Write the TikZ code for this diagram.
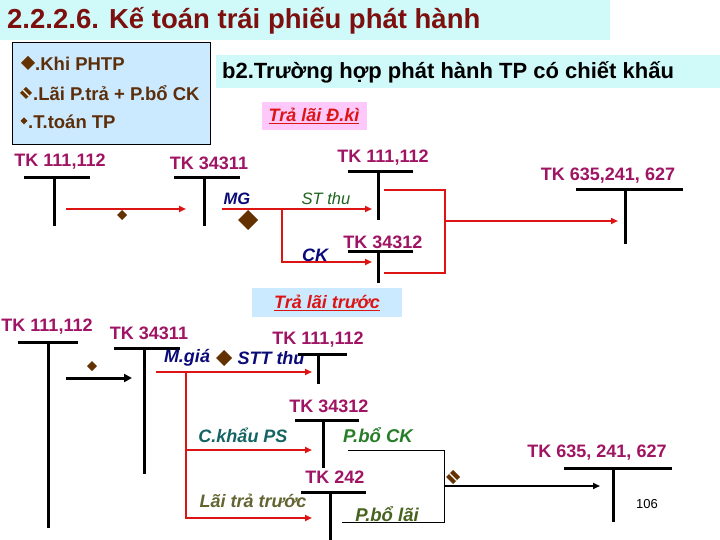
\documentclass[tikz,border=0pt]{standalone}
\usepackage{fontspec}
\setmainfont{Liberation Sans}
\usetikzlibrary{arrows.meta,shapes.geometric}
\definecolor{titlebg}{RGB}{208,250,250}
\definecolor{titlered}{RGB}{125,15,15}
\definecolor{legbg}{RGB}{204,234,255}
\definecolor{legtxt}{RGB}{92,46,10}
\definecolor{tkpur}{RGB}{160,20,100}
\definecolor{redl}{RGB}{220,20,20}
\definecolor{pinkbg}{RGB}{255,200,250}
\definecolor{dblue}{RGB}{10,10,120}
\definecolor{dgreen}{RGB}{30,100,30}
\definecolor{teal2}{RGB}{20,100,100}
\definecolor{lgreen}{RGB}{40,125,40}
\definecolor{olive2}{RGB}{100,100,50}
\definecolor{olgreen}{RGB}{70,100,30}
\definecolor{brownd}{RGB}{100,50,0}
\newcommand\dmd[3]{\fill[brownd] (#1,#2) ++(0,-#3) -- ++(#3,#3) -- ++(-#3,#3) -- ++(-#3,-#3) -- cycle;}
\newcommand\sdmd[3]{\dmd{#1}{#2}{#3}\draw[white,line width=1.2pt] (#1,#2) ++(-#3/2,-#3/2) -- ++(#3,#3);}
\newcommand\tacc[6]{\draw[tline] (#1,#3) -- (#2,#3); \draw[tline] (#4,#3) -- (#4,#5);}
\begin{document}
\begin{tikzpicture}[x=1pt,y=-1pt,
  lbl/.style={text=tkpur,font=\fontsize{18}{21}\selectfont\bfseries,inner sep=0pt},
  tline/.style={black,line width=3pt},
  redarr/.style={redl,line width=2pt,-{Triangle[length=7pt,width=6pt]}},
  redln/.style={redl,line width=2pt},
  itl/.style={font=\fontsize{16.5}{19}\selectfont\itshape,inner sep=0pt},
  bitl/.style={font=\fontsize{18}{21}\selectfont\bfseries\itshape,inner sep=0pt},
  legt/.style={text=legtxt,font=\fontsize{18.5}{21}\selectfont\bfseries,anchor=west,inner sep=0pt}]
\useasboundingbox (0,0) rectangle (720,540);
\fill[white] (0,0) rectangle (720,540);
% title
\fill[titlebg] (0,0) rectangle (610,40);
\node[anchor=west,text=titlered,font=\fontsize{27.5}{32}\selectfont\bfseries,inner sep=0pt] (title) at (7,21) {2.2.2.6. Kế toán trái phiếu phát hành};
% legend
\node[draw=black,line width=1pt,fill=legbg,minimum width=198,minimum height=102,anchor=north west,inner sep=0pt] (legend) at (12,42) {};
\dmd{28}{63}{7}
\node[legt] (leg1) at (35,64) {.Khi PHTP};
\sdmd{26}{93}{6}
\node[legt] (leg2) at (33,93) {.Lãi P.trả + P.bổ CK};
\dmd{24}{121}{3.5}
\node[legt] (leg3) at (28,122) {.T.toán TP};
% b2 band
\fill[titlebg] (216,55) rectangle (720,88);
\node[anchor=west,font=\fontsize{22}{26}\selectfont\bfseries,inner sep=0pt] (b2) at (222,72) {b2.Trường hợp phát hành TP có chiết khấu};
% Tra lai D.ki
\node[fill=pinkbg,minimum width=105,minimum height=28,inner sep=0pt,text=redl,font=\fontsize{18}{21}\selectfont\bfseries\itshape] (dki) at (314,116) {\underline{Trả lãi Đ.kì}};
% ---------- upper diagram
\node[lbl] (u111) at (60,162) {TK 111,112};
\tacc{24}{90}{178}{54}{226}{}
\node[lbl] (u34311) at (209,163) {TK 34311};
\tacc{174}{240}{178}{204}{226}{}
\coordinate (ua1) at (66,209); \coordinate (ua2) at (186,209);
\draw[redarr] (ua1) -- (ua2);
\dmd{122}{215}{5}
\node[itl,text=dblue,font=\fontsize{16.5}{19}\selectfont\bfseries\itshape] (mg) at (237,199) {MG};
\coordinate (ub1) at (222,209); \coordinate (ub2) at (372,209);
\draw[redarr] (ub1) -- (ub2);
\dmd{248}{220}{10}
\node[itl,text=dgreen] (stthu) at (326,199) {ST thu};
\coordinate (ubr) at (282,209); \coordinate (ubr2) at (282,262); \coordinate (ubr3) at (372,262);
\draw[redarr] (ubr) -- (ubr2) -- (ubr3);
\node[bitl,text=dblue] (ck) at (315,255) {CK};
\node[lbl] (u111b) at (383,158) {TK 111,112};
\tacc{348}{413}{172}{378}{220}{}
\node[lbl] (u34312) at (383,242) {TK 34312};
\tacc{348}{413}{251}{378}{283}{}
\coordinate (uc1) at (384,190); \coordinate (uc2) at (445,190); \coordinate (uc3) at (445,273); \coordinate (uc4) at (384,273);
\draw[redln] (uc1) -- (uc2) -- (uc3) -- (uc4);
\coordinate (ud1) at (445,221); \coordinate (ud2) at (618,221);
\draw[redarr] (ud1) -- (ud2);
\node[lbl] (u635) at (608,176) {TK 635,241, 627};
\tacc{576}{683}{190}{625}{244}{}
% Tra lai truoc
\node[fill=legbg,minimum width=150,minimum height=29,inner sep=0pt,text=redl,font=\fontsize{18}{21}\selectfont\bfseries\itshape] (truoc) at (327,302.5) {\underline{Trả lãi trước}};
% ---------- lower diagram
\node[lbl] (l111) at (47,327) {TK 111,112};
\tacc{18}{78}{342}{48}{528}{}
\node[lbl] (l34311) at (149,333) {TK 34311};
\tacc{114}{180}{348}{144}{474}{}
\coordinate (la1) at (66,378); \coordinate (la2) at (132,378);
\draw[black,line width=3pt,-{Triangle[length=8pt,width=8pt]}] (la1) -- (la2);
\dmd{92}{366}{5}
\node[bitl,text=dblue] (mgia) at (187,358) {M.giá};
\dmd{224}{358}{8}
\node[bitl,text=dblue] (sttthu) at (271,358) {STT thu};
\coordinate (lb1) at (156,372); \coordinate (lb2) at (312,372);
\draw[redarr] (lb1) -- (lb2);
\coordinate (lv1) at (186,372); \coordinate (lv2) at (186,450); \coordinate (lv3) at (186,518);
\coordinate (lc2) at (312,450); \coordinate (ld2) at (312,518);
\draw[redln] (lv1) -- (lv3);
\draw[redarr] (lv2) -- (lc2);
\draw[redarr] ([xshift=-1pt]lv3) -- (ld2);
\node[lbl] (l111b) at (318,340) {TK 111,112};
\tacc{298}{347}{354}{318}{384}{}
\node[lbl] (l34312) at (329,406) {TK 34312};
\tacc{295}{359}{420}{323}{468}{}
\node[bitl,text=teal2] (ckps) at (243,435) {C.khẩu PS};
\node[bitl,text=lgreen,font=\fontsize{18.5}{21}\selectfont\bfseries\itshape] (pbck) at (378,435) {P.bổ CK};
\coordinate (le1) at (348,450); \coordinate (le2) at (444,450); \coordinate (le3) at (444,522); \coordinate (le4) at (342,522);
\draw[black,line width=1pt] (le1) -- (le2) -- (le3) -- (le4);
\node[lbl] (l242) at (335,477) {TK 242};
\tacc{301}{366}{492}{330}{540}{}
\node[bitl,text=olive2] (laitt) at (253,501) {Lãi trả trước};
\node[bitl,text=olgreen,font=\fontsize{18.5}{21}\selectfont\bfseries\itshape] (pblai) at (387,514) {P.bổ lãi};
\sdmd{453}{477}{7}
\coordinate (lf1) at (444,486); \coordinate (lf2) at (600,486);
\draw[black,line width=2pt,-{Triangle[length=7pt,width=6pt]}] (lf1) -- (lf2);
\node[lbl] (l635) at (597,453) {TK 635, 241, 627};
\tacc{564}{672}{468}{613}{522}{}
\node[font=\fontsize{13}{15}\selectfont,inner sep=0pt] (pg) at (647,504) {106};
\end{tikzpicture}
\end{document}
